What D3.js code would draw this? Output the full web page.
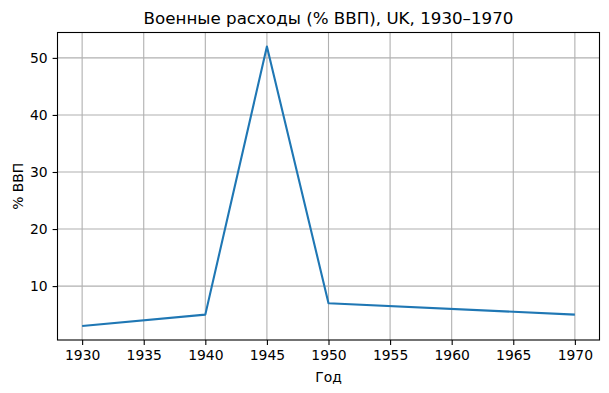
<!DOCTYPE html>
<html><head><meta charset="utf-8">
<script src="https://cdn.jsdelivr.net/npm/d3@7"></script>
<style>
body{margin:0;background:#fff;}
svg{display:block;font-family:"DejaVu Sans",sans-serif;}
</style></head><body>
<script>
const years = [1930, 1940, 1945, 1950, 1970];
const values = [3, 5, 52, 7, 5];
const xTicks = [1930, 1935, 1940, 1945, 1950, 1955, 1960, 1965, 1970];
const yTicks = [10, 20, 30, 40, 50];
const title = "Военные расходы (% ВВП), UK, 1930–1970";
const xLabel = "Год";
const yLabel = "% ВВП";

const W = 609, H = 393;
const m = {left: 57.5, right: 599.5, top: 32.5, bottom: 340};
const svg = d3.select("body").append("svg").attr("width", W).attr("height", H);

const xPad = (d3.max(years) - d3.min(years)) * 0.05;
const yPad = (d3.max(values) - d3.min(values)) * 0.05;
const x = d3.scaleLinear().domain([d3.min(years) - xPad, d3.max(years) + xPad]).range([m.left, m.right]);
const y = d3.scaleLinear().domain([d3.min(values) - yPad, d3.max(values) + yPad]).range([m.bottom, m.top]);

// grid
const g = svg.append("g");
g.selectAll(".vx").data(xTicks).join("line")
  .attr("x1", d => x(d)).attr("x2", d => x(d)).attr("y1", m.top).attr("y2", m.bottom)
  .attr("stroke", "#b0b0b0").attr("stroke-width", 1.1);
g.selectAll(".hy").data(yTicks).join("line")
  .attr("y1", d => y(d)).attr("y2", d => y(d)).attr("x1", m.left).attr("x2", m.right)
  .attr("stroke", "#b0b0b0").attr("stroke-width", 1.1);

// line
svg.append("path").datum(years.map((d, i) => [d, values[i]]))
  .attr("d", d3.line().x(d => x(d[0])).y(d => y(d[1])))
  .attr("fill", "none").attr("stroke", "#1f77b4").attr("stroke-width", 2.1)
  .attr("stroke-linejoin", "round").attr("stroke-linecap", "butt");

// axes
const xAxis = svg.append("g").attr("transform", `translate(0,${m.bottom})`)
  .call(d3.axisBottom(x).tickValues(xTicks).tickFormat(d3.format("d")).tickSize(4.9).tickPadding(4.9));
const yAxis = svg.append("g").attr("transform", `translate(${m.left},0)`)
  .call(d3.axisLeft(y).tickValues(yTicks).tickFormat(d3.format("d")).tickSize(4.9).tickPadding(4.9));
[xAxis, yAxis].forEach(a => {
  a.select(".domain").remove();
  a.selectAll("line").attr("stroke", "#000").attr("stroke-width", 1.1);
  a.selectAll("text").attr("fill", "#000").style("font-size", "13.9px").style("font-family", "DejaVu Sans");
});

// frame
svg.append("rect").attr("x", m.left).attr("y", m.top).attr("width", m.right - m.left).attr("height", m.bottom - m.top)
  .attr("fill", "none").attr("stroke", "#000").attr("stroke-width", 1.1);

svg.append("text").attr("x", (m.left + m.right) / 2).attr("y", 24).attr("text-anchor", "middle")
  .style("font-size", "16.7px").attr("fill", "#000").text(title);
svg.append("text").attr("x", (m.left + m.right) / 2).attr("y", 382).attr("text-anchor", "middle")
  .style("font-size", "13.9px").attr("fill", "#000").text(xLabel);
svg.append("text").attr("transform", `translate(23,${(m.top + m.bottom) / 2}) rotate(-90)`).attr("text-anchor", "middle")
  .style("font-size", "13.9px").attr("fill", "#000").text(yLabel);
</script>
</body></html>
